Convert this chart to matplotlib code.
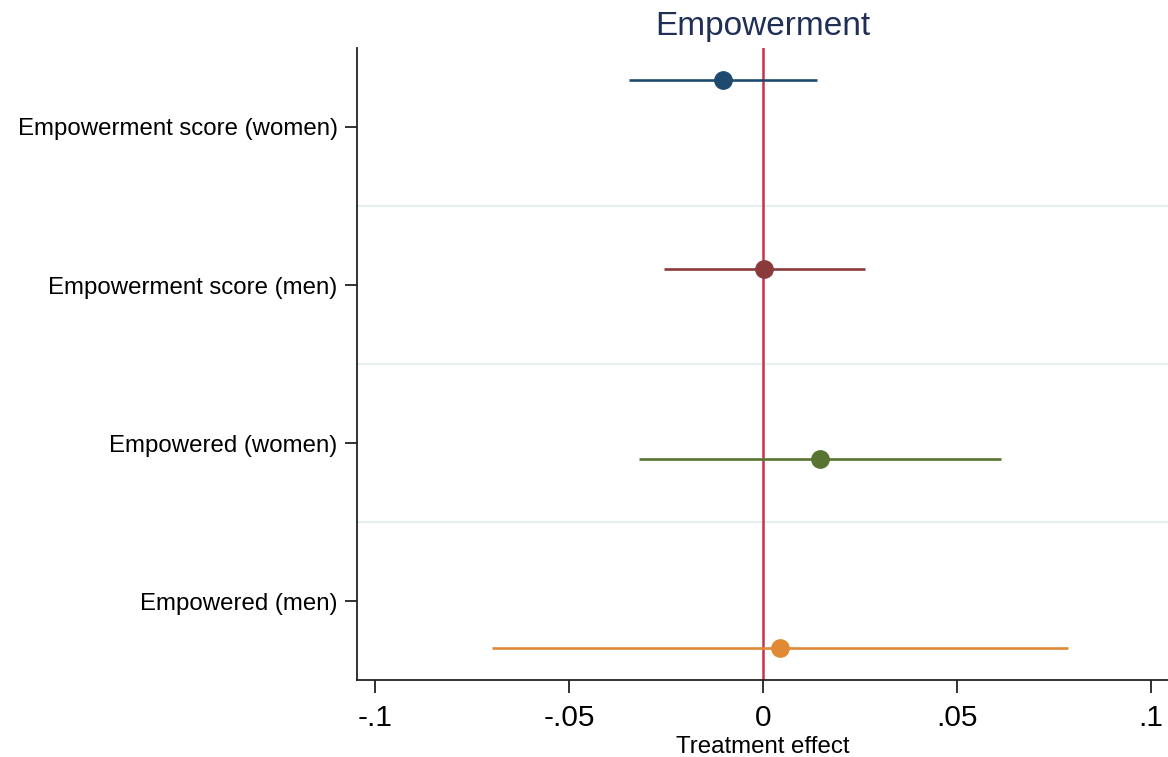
import numpy as np
import matplotlib.pyplot as plt

plt.rcParams['font.family'] = ['Liberation Sans', 'DejaVu Sans']

labels = ['Empowerment score (women)', 'Empowerment score (men)',
          'Empowered (women)', 'Empowered (men)']
estimates = [-0.0103, 0.0003, 0.0147, 0.0044]
ci_low = [-0.0345, -0.0255, -0.0320, -0.0698]
ci_high = [0.0139, 0.0263, 0.0613, 0.0786]
colors = ['#1f4a70', '#8b3a3c', '#587431', '#e08a36']
xticks = [-0.1, -0.05, 0, 0.05, 0.1]
xticklabels = ['-.1', '-.05', '0', '.05', '.1']

fig = plt.figure(figsize=(11.68, 7.57), dpi=100)
ax = fig.add_axes([0.3057, 0.1017, 0.6943, 0.8349])

n = len(labels)
# points sit off the label centres, like coefplot does
ypts = np.linspace(0.7, n + 0.3, n)
for i in range(n):
    ax.plot([ci_low[i], ci_high[i]], [ypts[i], ypts[i]], color=colors[i],
            lw=1.9, solid_capstyle='butt', zorder=3)
    ax.plot(estimates[i], ypts[i], 'o', color=colors[i], ms=12.5, zorder=4)

ax.axvline(0, color='#c4334a', lw=1.8, zorder=2)
for g in np.arange(1.5, n, 1):
    ax.axhline(g, color='#e8eff0', lw=1.6, zorder=1)

ax.set_ylim(n + 0.5, 0.5)
ax.set_yticks(range(1, n + 1))
ax.set_yticklabels(labels, fontsize=17.3)
ax.set_xlim(-0.1046, 0.1044)
ax.set_xticks(xticks)
ax.set_xticklabels(xticklabels, fontsize=21.5)
ax.set_xlabel('Treatment effect', fontsize=17.3, labelpad=3)
ax.set_title('Empowerment', fontsize=24, color='#1f2f55', pad=9)

for s in ['top', 'right']:
    ax.spines[s].set_visible(False)
for s in ['left', 'bottom']:
    ax.spines[s].set_linewidth(1.3)
    ax.spines[s].set_color('#222222')
ax.tick_params(axis='both', width=1.3, color='#222222')
ax.tick_params(axis='x', length=9, pad=8)
ax.tick_params(axis='y', length=9, pad=5)

fig.savefig('out.png', dpi=100)
